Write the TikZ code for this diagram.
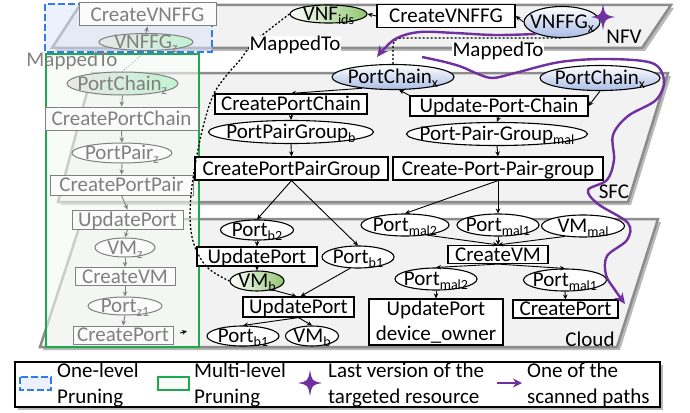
\documentclass[tikz,border=0pt]{standalone}
\usepackage{fontspec}
\setmainfont{Carlito}
\usetikzlibrary{shapes.geometric,arrows.meta,shadows}
\definecolor{purp}{HTML}{7030A0}
\definecolor{lgray}{HTML}{F2F2F2}
\definecolor{lborder}{HTML}{8C8C8C}
\definecolor{fgray}{HTML}{808080}
\definecolor{bluedash}{HTML}{2D7CF6}
\definecolor{bluefill}{HTML}{DCE5F8}
\definecolor{greenbox}{HTML}{1EAA4C}
\definecolor{greenfill}{HTML}{F4FAF5}
\definecolor{ellblue}{HTML}{A9BDE4}
\definecolor{ellgreen}{HTML}{93C572}
\definecolor{palegreen}{HTML}{C4F2D2}
\definecolor{palegray}{HTML}{E8E8E8}
\newcommand{\ct}[1]{\makebox[0pt]{\raisebox{-0.32em}[0pt][0pt]{#1}}}
\newcommand{\lsb}[1]{\raisebox{-0.2em}{\fontsize{14}{14}\selectfont #1}}
\tikzset{
  bx/.style 2 args={draw, rectangle, line width=1.2pt, fill=white, minimum width=#1, minimum height=#2, inner sep=0},
  ell/.style 2 args={draw, ellipse, line width=1.1pt, fill=white, minimum width=#1, minimum height=#2, inner sep=0},
  fbx/.style 2 args={bx={#1}{#2}, draw=fgray, text=fgray, fill=white!97!gray, line width=1pt},
  fell/.style 2 args={ell={#1}{#2}, draw=fgray, text=fgray, fill=white!97!gray, line width=1pt},
  arr/.style={-{Stealth[length=5pt,width=4.5pt]}, line width=0.9pt},
  farr/.style={arr, draw=fgray},
  layer/.style={fill=lgray, draw=lborder, line width=2.5pt, drop shadow={shadow xshift=3pt, shadow yshift=-3pt, opacity=.5, fill=black!55}},
  dotline/.style={line width=1.3pt, dash pattern=on 2pt off 2pt},
  scanpath/.style={purp, line width=2.4pt, -{Stealth[length=11pt,width=10pt]}},
  lbl/.style={fill=white, inner sep=0.5pt},
  legtext/.style={align=left, inner sep=0, anchor=west, font=\fontsize{21}{26}\selectfont},
  bluebox/.style={draw=bluedash, line width=2pt, dash pattern=on 7pt off 3pt, fill=bluefill, fill opacity=.55},
  grbox/.style={draw=greenbox, line width=1.8pt, fill=greenfill, fill opacity=.6},
  pstar/.pic={\fill[purp] (0,-13) .. controls (2,-2) .. (12,0) .. controls (2,2) .. (0,13) .. controls (-2,2) .. (-12,0) .. controls (-2,-2) .. cycle;}
}
\begin{document}
\begin{tikzpicture}[x=1pt, y=-1pt, font=\fontsize{21}{25}\selectfont]
\useasboundingbox (0,0) rectangle (690,412);
% layers
\draw[layer] (80,5) -- (671,5) -- (642,48) -- (52,48) -- cycle;
\draw[layer] (92,73) -- (668,73) -- (628,202) -- (58,202) -- cycle;
\draw[layer] (82,219) -- (658,219) -- (617,347) -- (40,347) -- cycle;
\node (nfv) at (624,37) {NFV};
\node (sfc) at (614,192) {SFC};
\node (cloud) at (590,339) {Cloud};
% pruning boxes
\draw[bluebox] (45,4) rectangle (212,52);
\draw[grbox] (46,54) rectangle (199,347);
% faded left column
\node[fbx={137}{23}] (cvz) at (147.5,14.5) {\ct{CreateVNFFG}};
\node[fell={94}{17}, left color=palegray, right color=palegreen] (vnffgz) at (146,42) {\ct{VNFFG\lsb{z}}};
\node[text=fgray] (mapz) at (72,61) {MappedTo};
\node[fell={111}{23}, left color=palegray, right color=palegreen] (pcz) at (122.5,83.5) {\ct{PortChain\lsb{z}}};
\node[fbx={153}{23}] (cpcz) at (121.5,118.5) {\ct{CreatePortChain}};
\node[fell={100}{20}] (ppz) at (122,153) {\ct{PortPair\lsb{z}}};
\node[fbx={143}{20}] (cppz) at (121.5,185) {\ct{CreatePortPair}};
\node[fbx={111}{19}] (upz) at (127.5,219.5) {\ct{UpdatePort}};
\node[fell={60}{19}] (vmz) at (125,247.5) {\ct{VM\lsb{z}}};
\node[fbx={100}{18}] (cvmz) at (125,276.5) {\ct{CreateVM}};
\node[fell={74}{18}] (pz1) at (125,306) {\ct{Port\lsb{z1}}};
\node[fbx={100}{18}] (cpz) at (123,335) {\ct{CreatePort}};
\coordinate (cpzt) at (187,331);
\draw[farr] (vnffgz.north) -- (cvz.south);
\draw[dotted, fgray, line width=0.8pt] (vnffgz.south) -- (pcz.north);
\draw[farr] (pcz.south) -- (cpcz.north);
\draw[farr] (cpcz.south) -- (ppz.north);
\draw[farr] (ppz.south) -- (cppz.north);
\draw[farr] (cppz.south) -- (upz.north);
\draw[farr] (upz.south) -- (vmz.north);
\draw[farr] (vmz.south) -- (cvmz.north);
\draw[farr] (cvmz.south) -- (pz1.north);
\draw[farr] (pz1.south) -- (cpz.north);
\draw[arr, shorten <=7pt] (cpz.east) -- (cpzt);
% NFV layer
\node[bx={138}{23}] (cvx) at (446,16) {\ct{CreateVNFFG}};
\node[ell={77}{18}, left color=white, right color=ellgreen] (vnfids) at (328.5,14) {\ct{VNF\lsb{ids}}};
\node[ell={76}{31}, top color=white, bottom color=ellblue] (vnffgx) at (562,22) {\ct{VNFFG\lsb{x}}};
\draw[arr] (cvx.west) -- (vnfids.east);
\draw[arr] (vnffgx.west) -- (cvx.east);
% SFC layer
\node[ell={122}{25}, top color=white, bottom color=ellblue] (pcl) at (393,77) {\ct{PortChain\lsb{x}}};
\node[ell={120}{25}, top color=white, bottom color=ellblue] (pcr) at (600,78) {\ct{PortChain\lsb{x}}};
\node[bx={152}{20}] (cpc) at (291,104) {\ct{CreatePortChain}};
\node[bx={178}{20}] (upc) at (499,106) {\ct{Update-Port-Chain}};
\node[ell={165}{23}] (ppgb) at (291,132) {\ct{PortPairGroup\lsb{b}}};
\node[ell={181}{23}] (ppgm) at (497,134) {\ct{Port-Pair-Group\lsb{mal}}};
\node[bx={193}{23}] (cppgb) at (291.5,168.5) {\ct{CreatePortPairGroup}};
\node[bx={210}{23}] (cppgm) at (498,168.5) {\ct{Create-Port-Pair-group}};
\draw[arr] (pcl.200) -- (cpc.north);
\draw[arr] (upc.north west) -- (pcl.-65);
\draw[arr] (pcr.south) -- (upc.east);
\draw[arr] (cpc.south) -- (ppgb.north);
\draw[arr] (upc.south) -- (ppgm.north);
\draw[arr] (ppgb.south) -- (cppgb.north);
\draw[arr] (ppgm.south) -- (cppgm.north);
% Cloud layer
\node[ell={73}{20}] (portb2) at (257,230) {\ct{Port\lsb{b2}}};
\node[bx={120}{19}] (up1) at (257,256.5) {\ct{UpdatePort}};
\node[ell={54}{20}, left color=white, right color=ellgreen] (vmb) at (257,281) {\ct{VM\lsb{b}}};
\node[ell={72}{22}] (portb1) at (358,257) {\ct{Port\lsb{b1}}};
\node[bx={111}{20}] (up2) at (298.5,307) {\ct{UpdatePort}};
\node[ell={72}{20}] (portb1b) at (243,336) {\ct{Port\lsb{b1}}};
\node[ell={53}{20}] (vmb2) at (312,336) {\ct{VM\lsb{b}}};
\node[ell={88}{22}] (pm2) at (405,225) {\ct{Port\lsb{mal2}}};
\node[ell={82}{22}] (pm1) at (498,225) {\ct{Port\lsb{mal1}}};
\node[ell={83}{22}] (vmmal) at (583,226) {\ct{VM\lsb{mal}}};
\node[bx={100}{18}] (cvm) at (498,254.5) {\ct{CreateVM}};
\node[ell={82}{22}] (pm2b) at (436,279) {\ct{Port\lsb{mal2}}};
\node[ell={83}{22}] (pm1b) at (565,280) {\ct{Port\lsb{mal1}}};
\node[bx={134}{46}, align=center] (updo) at (436,322) {UpdatePort\\device\_owner};
\node[bx={105}{18}] (cport) at (565.5,309) {\ct{CreatePort}};
\draw[arr] (cppgb.south) -- (portb2.north);
\draw[arr] (cppgb.south) -- (portb1.north);
\draw[arr] (cppgm.south) -- (pm2.north);
\draw[arr] (cppgm.south) -- (pm1.north);
\draw[arr] (portb2.south) -- (up1.north);
\draw[arr] (up1.south) -- (vmb.north);
\draw[arr] (vmb.-30) -- ([xshift=-2pt]up2.north);
\draw[arr] (portb1.235) -- ([xshift=2pt]up2.north);
\draw[arr] (up2.south) -- (portb1b.north);
\draw[arr] (up2.south) -- (vmb2.north);
\draw[arr] (pm2.-25) -- (cvm.north);
\draw[arr] (pm1.south) -- (cvm.north);
\draw[arr] (vmmal.210) -- (cvm.north);
\draw[arr] (cvm.south) -- (pm2b.north);
\draw[arr] (cvm.south) -- (pm1b.north);
\draw[arr] (pm2b.south) -- (updo.north);
\draw[arr] (pm1b.south) -- (cport.north);
% mapping lines
\draw[dotline] plot[smooth, tension=0.6] coordinates {(vnfids.west) (270,29) (253,43) (240,60) (226,76) (212,98) (200,140) (191,195) (192,237) (206,266) (vmb.west)};
\draw[dotline, rounded corners=8pt] (pcl.north) |- (vnffgx.south);
\node[lbl] (map1) at (295,45) {MappedTo};
\node[lbl] (map2) at (498,51) {MappedTo};
% scanned paths
\draw[scanpath] plot[smooth, tension=0.6] coordinates {(vnffgx.205) (495,35) (455,33) (420,32) (397,38) (384,49) (377,57)};
\coordinate (sp2s) at (422,57);
\coordinate (sp2e) at (625,304);
\draw[scanpath] plot[smooth, tension=0.55] coordinates {(sp2s) (445,62) (462,67) (478,74) (493,78) (515,73) (560,62) (607,59) (652,63) (664,80) (656,100) (628,116) (613,135) (614,160) (607,180) (588,190) (598,204) (628,223) (627,240) (607,256) (606,275) (615,290) (sp2e)};
\pic at (603,17) {pstar};
% legend
\draw[fill=white, line width=1.2pt, drop shadow={shadow xshift=3pt, shadow yshift=-3pt, opacity=.5, fill=black!55}] (15,362) rectangle (660,407);
\draw[bluebox] (20,377) rectangle (51,390);
\node[legtext] (l1) at (57,385) {One-level\\Pruning};
\draw[grbox] (158,377) rectangle (189,390);
\node[legtext] (l2) at (194,385) {Multi-level\\Pruning};
\pic at (310,383) {pstar};
\node[legtext] (l3) at (328,385) {Last version of the\\targeted resource};
\coordinate (la1) at (497,383);
\coordinate (la2) at (522,383);
\draw[purp, line width=2.4pt, -{Stealth[length=9pt,width=9pt]}] (la1) -- (la2);
\node[legtext] (l4) at (527,385) {One of the\\scanned paths};
\end{tikzpicture}
\end{document}
